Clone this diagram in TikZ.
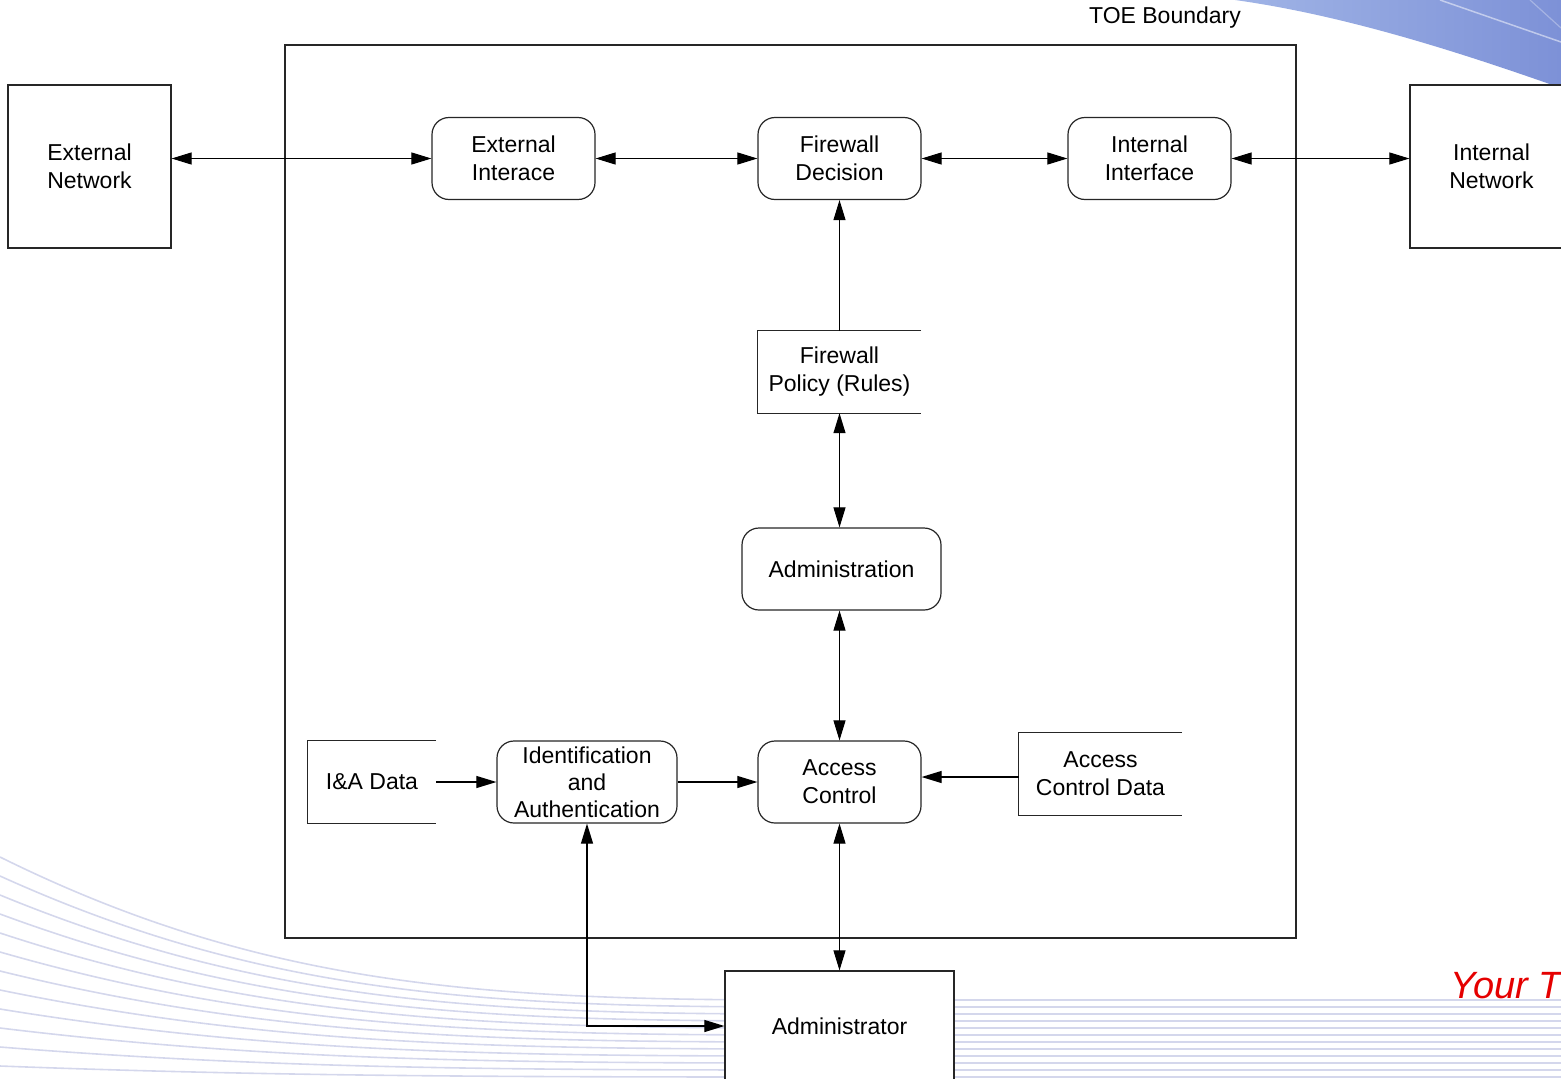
\documentclass[tikz,border=0pt]{standalone}
\usepackage{fontspec}
\setmainfont{Liberation Sans}
\usetikzlibrary{arrows.meta}
\definecolor{swooshA}{RGB}{160,180,230}
\definecolor{swooshB}{RGB}{125,145,215}
\definecolor{bgl}{RGB}{212,215,236}
\begin{document}
\begin{tikzpicture}[x=1pt,y=-1pt,
  every node/.style={font=\fontsize{23}{28}\selectfont, align=center, inner sep=0pt},
  >={Triangle[length=20pt,width=12pt]},
  boxline/.style={line width=1.2pt, draw=black!85},
  rectbox/.style={boxline, draw, fill=white},
  proc/.style={boxline, draw, fill=white, rounded corners=17pt, minimum width=163pt, minimum height=82pt},
  store/.style={fill=white, minimum width=163pt, minimum height=82pt},
  arr/.style={line width=1.1pt},
  bgline/.style={draw=bgl, line width=1.6pt}
]
\useasboundingbox (0,0) rectangle (1561,1079);
% background decoration
\shade[left color=swooshA, right color=swooshB]
  (1235,0) .. controls (1350,16) and (1470,56) .. (1561,88) -- (1561,0) -- cycle;
\draw[white, opacity=0.5, line width=1.5pt] (1440,0) -- (1561,42);
\draw[white, opacity=0.3, line width=1.2pt] (1530,0) -- (1561,28);
\foreach \i in {0,...,11}{
  \pgfmathsetmacro\ya{857+19*\i}
  \pgfmathsetmacro\yb{1000+7*\i}
  \draw[bgline] (0,\ya) .. controls (260,\ya+0.9*\yb-0.9*\ya) and (480,\yb) .. (800,\yb) -- (1561,\yb);
}
\node[anchor=base west, font=\fontsize{38}{40}\selectfont\itshape, text=red!90!black] (your) at (1450,998) {Your T};

% TOE boundary
\node[boxline, draw, minimum width=1011pt, minimum height=893pt] (toe) at (790.5,491.5) {};
\node (toelabel) at (1165,18) {TOE Boundary};

% nodes
\node[rectbox, minimum width=163pt, minimum height=163pt] (extnet) at (89.5,166.5) {External\\Network};
\node[rectbox, minimum width=163pt, minimum height=163pt] (intnet) at (1491.5,166.5) {Internal\\Network};
\node[proc] (extif) at (513.5,158.5) {External\\Interace};
\node[proc] (fwd) at (839.5,158.5) {Firewall\\Decision};
\node[proc] (intif) at (1149.5,158.5) {Internal\\Interface};
\node[store] (pol) at (839.5,372) {Firewall\\Policy (Rules)};
\node[proc, minimum width=199pt] (adm) at (841.5,569) {Administration};
\node[proc] (ac) at (839.5,782) {Access\\Control};
\node[store, minimum width=128pt] (iad) at (372,782) {I\&A Data};
\node[proc, minimum width=180pt, font=\fontsize{23}{27}\selectfont] (ia) at (587,782) {Identification\\and\\Authentication};
\node[store] (acd) at (1100.5,774) {Access\\Control Data};
\node[rectbox, minimum width=229pt, minimum height=110pt] (admr) at (839.5,1026) {Administrator};

% data store outlines (open on the right)
\foreach \n in {pol,iad,acd}{
  \draw[boxline] (\n.north east) -- (\n.north west) -- (\n.south west) -- (\n.south east);
}

% connectors
\draw[arr,<->] (extnet.east |- extif.west) -- (extif.west);
\draw[arr,<->] (extif) -- (fwd);
\draw[arr,<->] (fwd) -- (intif);
\draw[arr,<->] (intif.east) -- (intif.east -| intnet.west);
\draw[arr,->] (pol) -- (fwd);
\draw[arr,<->] (pol.south) -- (pol.south |- adm.north);
\draw[arr,<->] (adm.south -| ac.north) -- (ac.north);
\draw[arr,->] (iad) -- (ia);
\draw[arr,->] (ia) -- (ac);
\draw[arr,->] ([yshift=-3pt]acd.west) -- ([yshift=-3pt]acd.west -| ac.east);
\draw[arr,<->] (ac) -- (admr);
\draw[arr,<->] (ia.south) |- (admr.west);
\end{tikzpicture}
\end{document}
